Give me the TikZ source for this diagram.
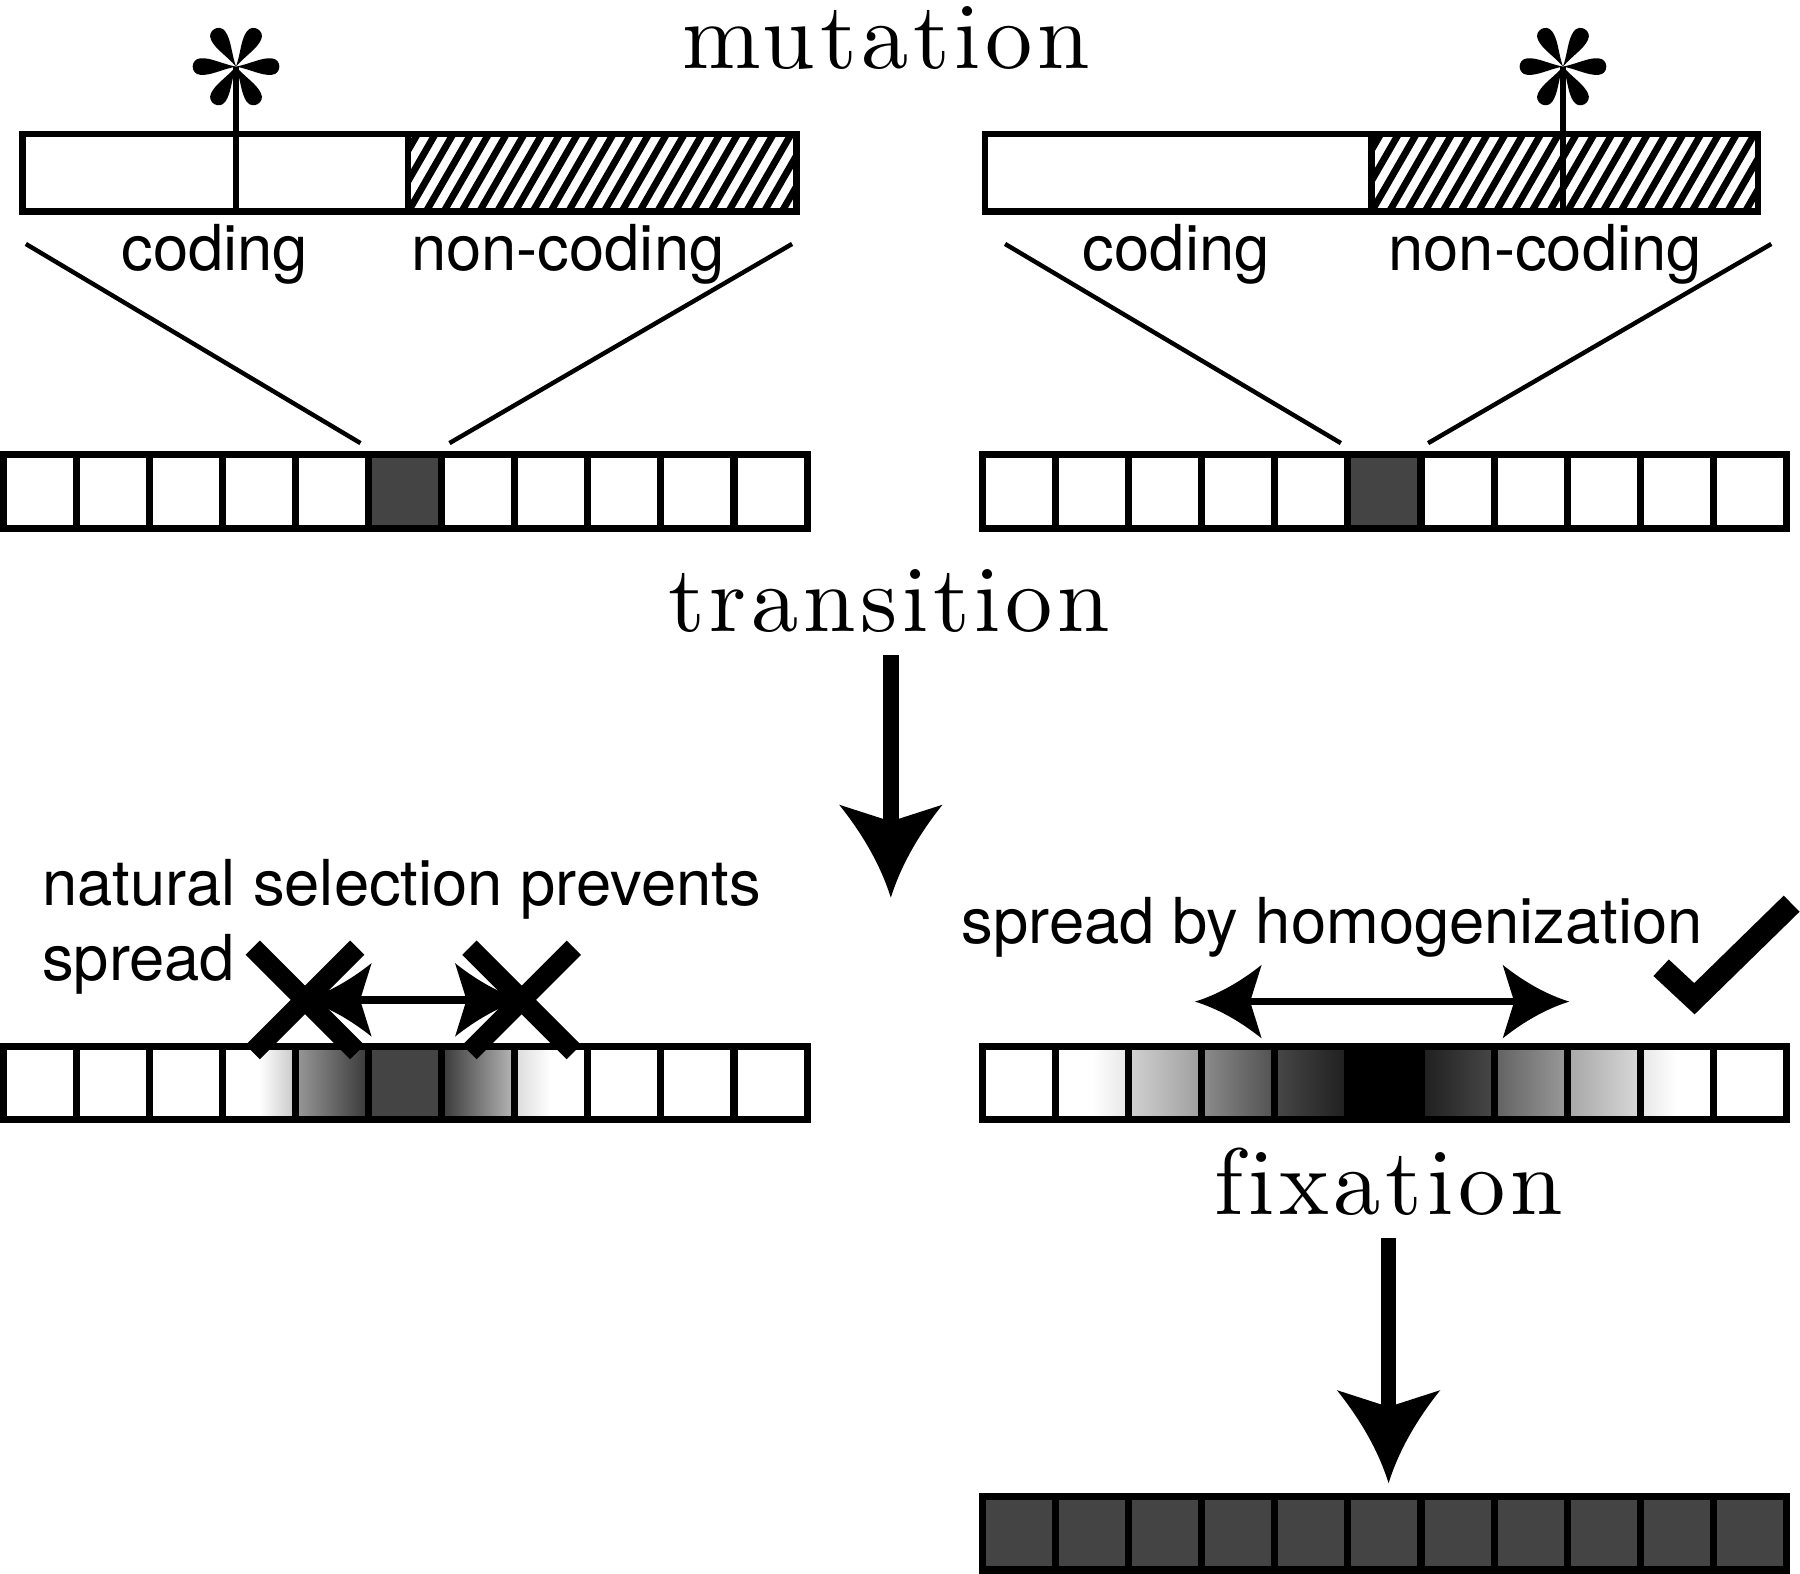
\documentclass[tikz,border=0pt]{standalone}
\usepackage{fontspec}
\setsansfont{TeX Gyre Heros}
\newfontfamily\titlefont{lmroman10-regular.otf}[LetterSpace=5,Ligatures=CommonOff]
\usetikzlibrary{arrows.meta,shapes.misc}
\definecolor{Mut}{HTML}{444444}
\newcommand{\cellw}{0.6364}

% arrow head with hollow (concave) sides
\pgfdeclarearrow{
  name=Dart,
  parameters={\the\pgfarrowlength,\the\pgfarrowwidth,\the\pgfarrowinset},
  setup code={
    \pgfarrowssettipend{0pt}
    \pgfarrowssetbackend{-\pgfarrowlength}
    \pgfarrowssetlineend{\dimexpr-\pgfarrowlength+\pgfarrowinset+0.3mm\relax}
    \pgfarrowssavethe\pgfarrowlength
    \pgfarrowssavethe\pgfarrowwidth
    \pgfarrowssavethe\pgfarrowinset
  },
  drawing code={
    \pgfpathmoveto{\pgfpointorigin}
    \pgfpathcurveto{\pgfpoint{-0.333\pgfarrowlength}{0.0935\pgfarrowwidth}}
                   {\pgfpoint{-0.667\pgfarrowlength}{0.26\pgfarrowwidth}}
                   {\pgfpoint{-\pgfarrowlength}{0.5\pgfarrowwidth}}
    \pgfpathlineto{\pgfpoint{-\pgfarrowlength+\pgfarrowinset}{0pt}}
    \pgfpathlineto{\pgfpoint{-\pgfarrowlength}{-0.5\pgfarrowwidth}}
    \pgfpathcurveto{\pgfpoint{-0.667\pgfarrowlength}{-0.26\pgfarrowwidth}}
                   {\pgfpoint{-0.333\pgfarrowlength}{-0.0935\pgfarrowwidth}}
                   {\pgfpointorigin}
    \pgfpathclose
    \pgfusepathqfill
  },
  defaults={length=8mm,width=9mm,inset=1.5mm}
}

\begin{document}
\begin{tikzpicture}[x=1cm,y=1cm,
  seg/.style={draw,line width=1.6pt,fill=white,inner sep=0pt,outer sep=0pt,minimum height=6.77mm},
  hatched/.style={seg,path picture={
      \foreach \k in {-3,...,23}
        \draw[line width=1.7pt] ([xshift=\k*1.55mm]path picture bounding box.south west) -- ++(60:9mm);}},
  cell/.style={draw,line width=1.75pt,inner sep=0pt,outer sep=0pt,minimum width=6.364mm,minimum height=6.4mm},
  lab/.style={font=\sffamily\fontsize{15.7}{18}\selectfont,inner sep=0pt,anchor=base},
  ttl/.style={font=\titlefont\fontsize{23.4}{28}\selectfont,inner sep=0pt,anchor=base},
  stalk/.style={line width=1.6pt},
  zoomline/.style={line width=1.1pt},
  bigarrow/.style={-{Dart[length=8.1mm,width=9mm,inset=1.45mm]},line width=3.9pt},
  spreadarrow/.style={{Dart[length=5.8mm,width=6.4mm,inset=1mm]}-{Dart[length=5.8mm,width=6.4mm,inset=1mm]},line width=1.9pt},
  nogo/.style={cross out,draw,line width=5pt,minimum size=9.1mm,inner sep=0pt,outer sep=0pt},
  okmark/.style={line width=5.6pt,miter limit=10},
  mutmark/.pic={
    \foreach \a in {0,60,...,300}
      \fill[rotate=\a] (0,0) .. controls (0.12,0.022) and (0.22,0.08) .. (0.31,0.072)
        .. controls (0.40,0.066) and (0.40,-0.066) .. (0.31,-0.072)
        .. controls (0.22,-0.08) and (0.12,-0.022) .. (0,0);
  }]
  \useasboundingbox (0,0) rectangle (15.68,-13.71);

  % sequences with the mutated site
  \node[seg,minimum width=33.61mm] (codl) at (1.8755,-1.5055) {};
  \node[hatched,minimum width=33.82mm] (ncl) at (5.247,-1.5055) {};
  \node[seg,minimum width=33.67mm] (codr) at (10.2635,-1.5055) {};
  \node[hatched,minimum width=33.68mm] (ncr) at (13.631,-1.5055) {};
  \coordinate (astl) at (2.056,-0.58);
  \coordinate (astr) at (13.615,-0.58);
  \draw[stalk] (astl) -- (astl |- codl.south);
  \draw[stalk] (astr) -- (astr |- ncr.south);
  \pic at (astl) {mutmark};
  \pic at (astr) {mutmark};

  \node[ttl] (mut) at (7.72,-0.60) {mutation};
  \node[lab] (cl) at (1.87,-2.36) {coding};
  \node[lab] (nl) at (4.946,-2.36) {non-coding};
  \node[lab] (cr) at (10.246,-2.36) {coding};
  \node[lab] (nr) at (13.46,-2.36) {non-coding};

  % repeat arrays
  \foreach \f [count=\i from 0] in {white,white,white,white,white,Mut,white,white,white,white,white}{
    \node[cell,fill=\f] (l1-\i) at ({0.03+(\i+0.5)*\cellw},-4.28) {};
    \node[cell,fill=\f] (r1-\i) at ({8.56+(\i+0.5)*\cellw},-4.28) {};
  }
  \draw[zoomline] ([shift={(0.03,-0.281)}]codl.south west) -- ([shift={(-0.072,0.1)}]l1-5.north west);
  \draw[zoomline] ([shift={(-0.038,-0.281)}]ncl.south east) -- ([shift={(0.067,0.1)}]l1-5.north east);
  \draw[zoomline] ([shift={(0.175,-0.281)}]codr.south west) -- ([shift={(-0.062,0.1)}]r1-5.north west);
  \draw[zoomline] ([shift={(0.115,-0.281)}]ncr.south east) -- ([shift={(0.062,0.1)}]r1-5.north east);

  \node[ttl] (trans) at (7.745,-5.50) {transition};
  \coordinate (transtip) at (7.76,-7.82);
  \draw[bigarrow] ([yshift=-2.06mm]trans.base) ++(0.015,0) -- (transtip);

  % left: selection
  \node[lab,anchor=base west] (nsel) at (0.36,-7.89) {natural selection prevents};
  \node[lab,anchor=base west] (nsel2) at (0.36,-8.537) {spread};
  \foreach \lc/\mc/\rc [count=\i from 0] in {white/white/white,white/white/white,white/white/white,
      white/white/black!22,black!40/black!59/black!78,Mut/Mut/Mut,black!78/black!53/black!28,
      black!14/white/white,white/white/white,white/white/white,white/white/white}
    \node[cell,left color=\lc,right color=\rc,middle color=\mc] (l2-\i) at ({0.03+(\i+0.5)*\cellw},-9.435) {};
  \coordinate (stopl) at (2.657,-8.71);
  \coordinate (stopr) at (4.544,-8.71);
  \draw[spreadarrow] (stopl) -- (stopr);
  \node[nogo] (xl) at (stopl) {};
  \node[nogo] (xr) at (stopr) {};

  % right: homogenization
  \node[lab,anchor=base west] (homog) at (8.37,-8.216) {spread by homogenization};
  \foreach \lc/\mc/\rc [count=\i from 0] in {white/white/white,white/white/black!10,black!18/black!28/black!38,
      black!45/black!57/black!68,black!72/black!80/black!88,black/black/black,black!88/black!80/black!72,
      black!62/black!51/black!40,black!35/black!25/black!15,black!10/white/white,white/white/white}
    \node[cell,left color=\lc,right color=\rc,middle color=\mc] (r2-\i) at ({8.56+(\i+0.5)*\cellw},-9.435) {};
  \coordinate (hgl) at (10.41,-8.725);
  \coordinate (hgr) at (13.67,-8.725);
  \draw[spreadarrow] (hgl) -- (hgr);
  \draw[okmark] (14.47,-8.43) -- (14.76,-8.70) -- (15.607,-7.872);

  % fixation
  \node[ttl] (fix) at (12.096,-10.58) {fixation};
  \foreach \i in {0,...,10}
    \node[cell,fill=Mut] (r3-\i) at ({8.56+(\i+0.5)*\cellw},-13.356) {};
  \draw[bigarrow,shorten >=1.16mm] ([yshift=-2mm]fix.base) -- (fix.base |- r3-5.north);
\end{tikzpicture}
\end{document}
